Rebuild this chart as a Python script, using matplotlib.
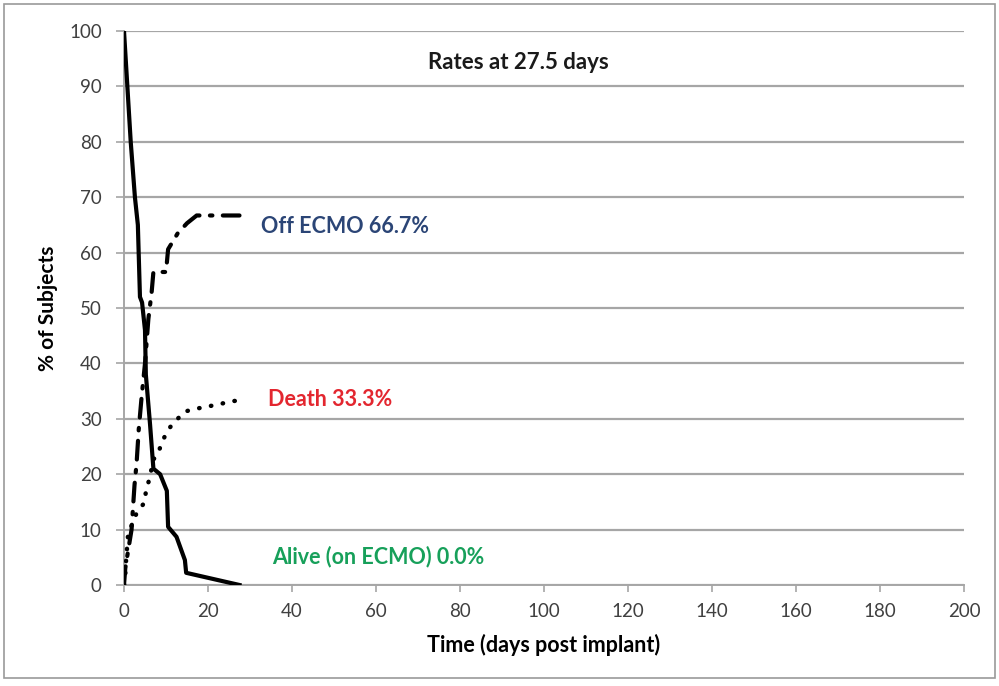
import matplotlib
matplotlib.use("Agg")
import matplotlib.pyplot as plt
from matplotlib.patches import Rectangle

plt.rcParams['font.family'] = ['Lato', 'DejaVu Sans']

# Alive (on ECMO) - solid
alive_days = [0, 0.8, 1.6, 2.6, 3.3, 3.8, 4.3, 5.0, 5.2, 6.2, 7.0, 8.6, 10.2, 10.5, 12.5, 14.5, 14.8, 27.5]
alive_pct = [100, 90, 80, 70, 65, 52, 51, 46, 38, 29, 21, 20, 17, 10.5, 8.7, 4.5, 2.2, 0]

# Death - dotted
death_days = [0, 0.2, 0.5, 1.0, 2.2, 3.0, 5.0, 5.2, 6.2, 6.9, 8.2, 9.0, 9.8, 11.0, 12.5, 14.5, 16.9, 19.3, 21.7, 23.6, 26.0, 27.5]
death_pct = [0, 0.4, 4.5, 9.4, 11.4, 13, 15, 17, 19.5, 22.5, 24, 25.6, 27, 28.5, 29.8, 31.3, 31.8, 32.1, 32.5, 32.8, 33.2, 33.3]

# Off ECMO - dash-dot
off_days = [0, 0.3, 1.8, 2.5, 3.0, 3.5, 4.2, 5.0, 5.8, 6.6, 7.0, 10.0, 10.5, 12.8, 15.0, 17.3, 21.7, 27.5]
off_pct = [0, 3, 10, 18, 22, 28, 34, 40, 48, 53, 56.5, 56.5, 60.6, 63.5, 65.3, 66.7, 66.7, 66.7]

labels = ["Off ECMO 66.7%", "Death 33.3%", "Alive (on ECMO) 0.0%"]
label_colors = ["#2B4576", "#E3262F", "#17A05A"]
label_pos = [(32.6, 64.8), (34.3, 33.4), (35.2, 5.2)]

xticks = list(range(0, 201, 20))
yticks = list(range(0, 101, 10))

fig = plt.figure(figsize=(9.99, 6.86), dpi=100)
fig.patches.append(Rectangle((4/999, 8/686), 991/999, 674/686, transform=fig.transFigure,
                             fill=False, edgecolor="#9a9a9a", linewidth=1.2))
ax = fig.add_axes([124/999, 1-585/686, 840/999, 554/686])

ax.plot(alive_days, alive_pct, color="black", lw=3.0, solid_joinstyle="round", zorder=4)
ax.plot(death_days, death_pct, color="black", lw=3.2, linestyle=(0, (0.1, 2.6)),
        dash_capstyle="round", zorder=4)
ax.plot(off_days, off_pct, color="black", lw=3.0, linestyle=(0, (4.5, 2.5, 0.6, 2.5)),
        dash_capstyle="round", zorder=4)

ax.set_xlim(0, 200)
ax.set_ylim(0, 100)
ax.set_xticks(xticks)
ax.set_yticks(yticks)
ax.grid(axis="y", color="#a6a6a6", lw=1.6)
ax.set_axisbelow(True)
for s in ["top", "right"]:
    ax.spines[s].set_visible(False)
ax.spines["left"].set_color("#a6a6a6")
ax.spines["bottom"].set_color("#a6a6a6")
ax.spines["left"].set_linewidth(1.4)
ax.spines["bottom"].set_linewidth(1.4)
ax.tick_params(axis="x", direction="out", length=5, width=1.2, color="#a6a6a6",
               labelsize=13.5, labelcolor="#404040", pad=8)
ax.tick_params(axis="y", direction="out", length=6, width=1.2, color="#a6a6a6",
               labelsize=13.5, labelcolor="#404040", pad=10)

ax.set_xlabel("Time (days post implant)", fontsize=15.5, fontweight="bold")
ax.set_ylabel("% of Subjects", fontsize=15, fontweight="bold")
ax.xaxis.set_label_coords(0.5, -0.088)
ax.yaxis.set_label_coords(-0.078, 0.5)

ax.text(93.8, 94.4, "Rates at 27.5 days", fontsize=16, fontweight="bold", color="#1a1a1a",
        ha="center", va="center")
for t, c, (x, y) in zip(labels, label_colors, label_pos):
    ax.text(x, y, t, fontsize=15.5, fontweight="bold", color=c, ha="left", va="center")

fig.savefig("out.png", dpi=100)
